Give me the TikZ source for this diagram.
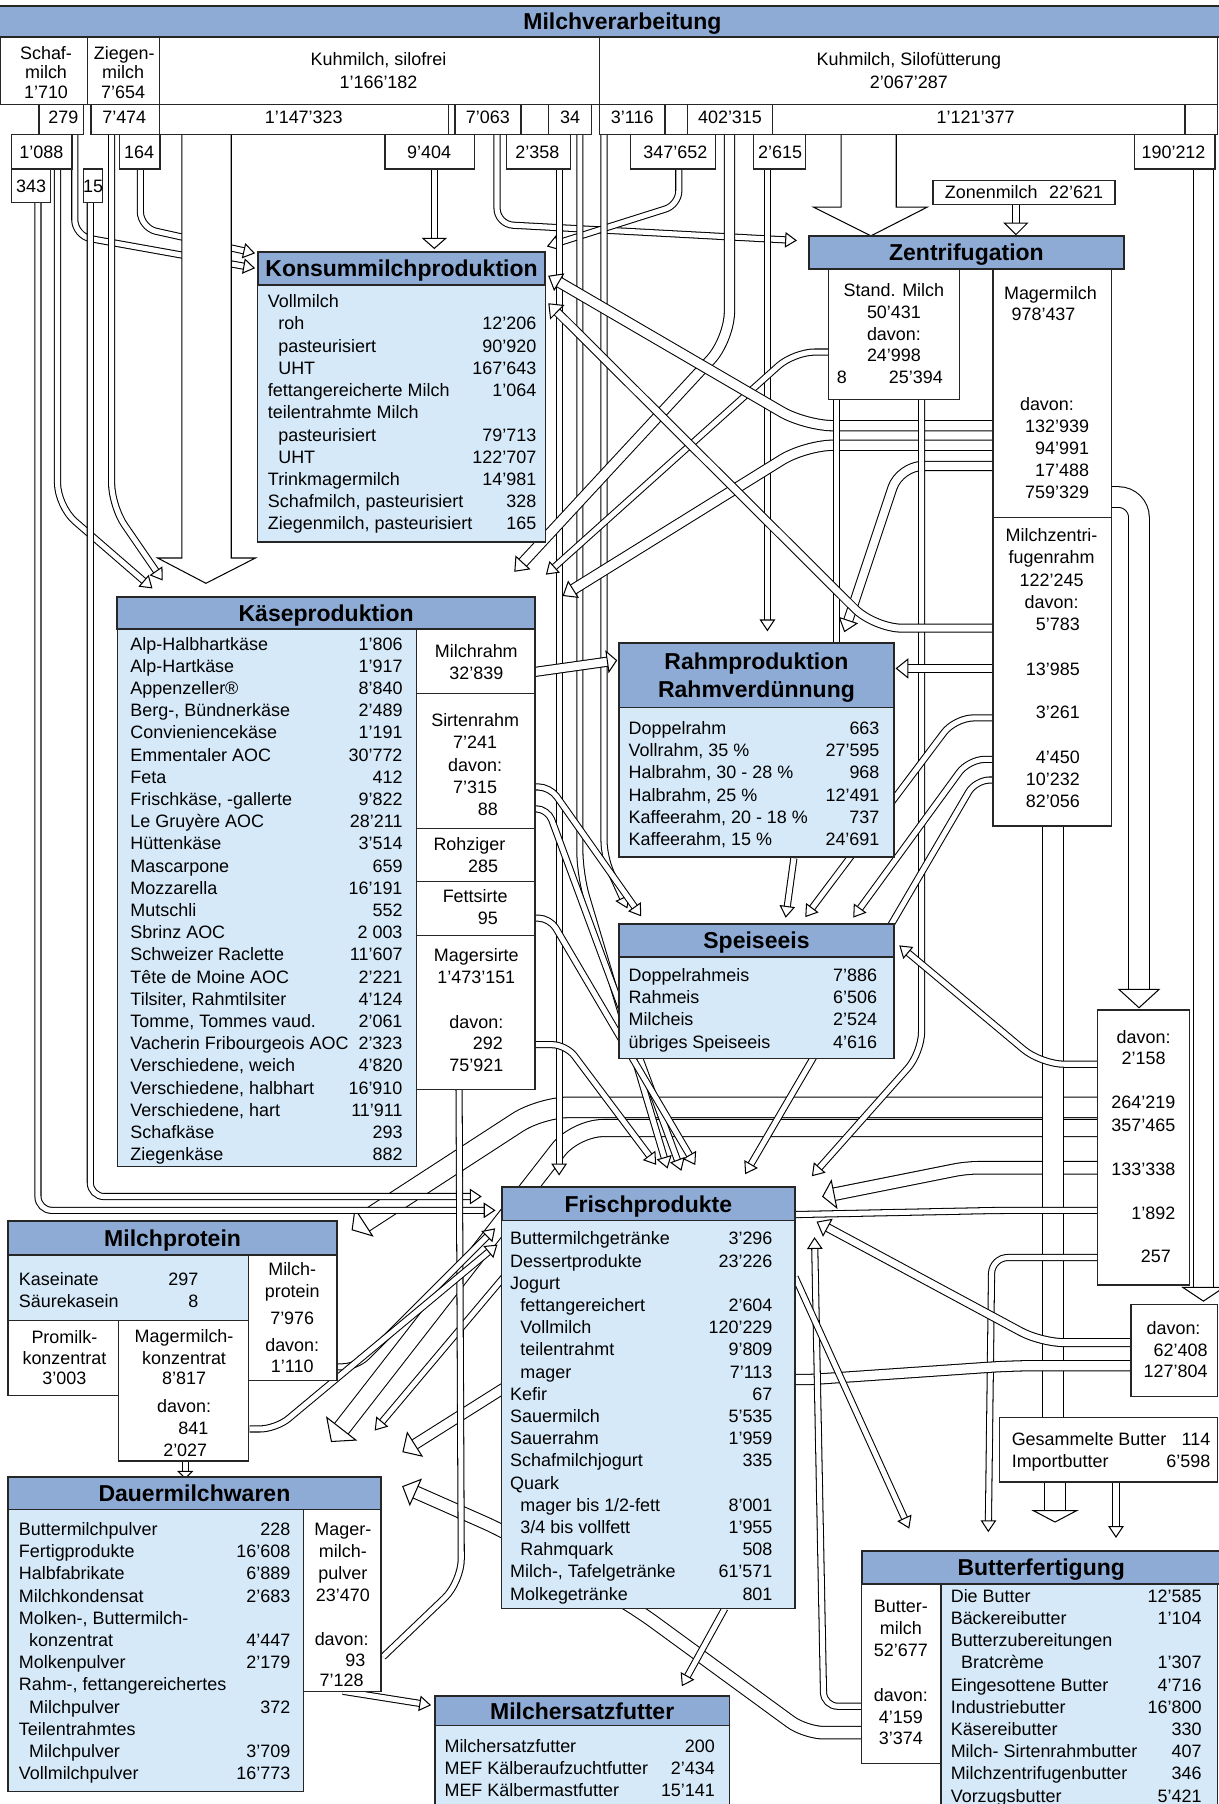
\documentclass[tikz,border=0pt]{standalone}
\usepackage{fontspec}
\setmainfont{Liberation Sans}
\usetikzlibrary{decorations.markings}
\definecolor{tblue}{RGB}{142,171,214}
\definecolor{lblue}{RGB}{214,233,248}
\newcommand\bodyf{\fontsize{7.8}{9.65}\selectfont}
\newcommand\ttlf{\fontsize{10}{12}\selectfont\bfseries}
\newcounter{tn}
\newcommand\tC[3]{\stepcounter{tn}\node[tx,anchor=base] (c\arabic{tn}) at (#1,{#2+5.6}) {#3};}
\newcommand\tR[3]{\stepcounter{tn}\node[tx,anchor=base east] (c\arabic{tn}) at (#1,{#2+5.6}) {#3};}
\newcommand\tL[3]{\stepcounter{tn}\node[tx,anchor=base west] (c\arabic{tn}) at (#1,{#2+5.6}) {#3};}
\newcommand\tT[4]{\node[tt,anchor=base] (#1) at (#2,{#3+7.2}) {#4};}
\newcommand\lst[5]{\node[tx,anchor=north west] (#1) at (#2,{#3-7.9}) {\begin{tabular*}{#4}{@{}l@{\extracolsep{\fill}}r@{}}#5\end{tabular*}};}
\newcommand\ind{\hspace*{4.5pt}}
\begin{document}
\begin{tikzpicture}[x=0.5pt,y=-0.5pt,
 fl/.style={draw=black, line width=0.45pt, double=white, double distance=#1},
 fl/.default=2.2pt,
 hd/.style 2 args={shorten >=0.75*#1, postaction={decorate, decoration={markings, mark=at position -0.05pt with {\draw[line width=0.45pt, draw=black, fill=white, sharp corners, shorten >=0pt] (0,0) -- (-#1,#2) -- (-#1,-#2) -- cycle;}}}},
 ah/.style={hd={4.5pt}{3pt}},
 tb/.style={fill=tblue, draw=black!85, line width=0.8pt},
 bb/.style={fill=lblue, draw=black!85, line width=0.6pt},
 wb/.style={fill=white, draw=black!85, line width=0.6pt},
 bigarr/.style={fill=white, draw=black, line width=0.45pt},
 tt/.style={font=\ttlf, inner sep=0pt},
 tx/.style={font=\bodyf, inner sep=0pt}]
\useasboundingbox (0,0) rectangle (1059,1568);

% ---------------- flows ----------------
% wide skim-milk bands (drawn first, crossed by the others)
\draw[fl={8.5pt},hd={6pt}{7pt},rounded corners=12pt] (954,962.5) -- (470,962.5) -- (306,1069);
\draw[fl={7pt},hd={7pt}{8pt},rounded corners=12pt] (954,980.5) -- (500,980.5) -- (288,1253);
\draw[fl={5pt},hd={5pt}{6pt},rounded corners=5pt] (954,1015) -- (840,1015) -- (715,1040);
% top-left
\draw[fl,ah,rounded corners=7pt] (65,117) -- (65,205) -- (221,233);
\draw[fl,ah,rounded corners=7pt] (122,147) -- (122,198) -- (221,220);
\draw[fl,ah,rounded corners=10pt] (50,147) -- (50,440) -- (132,511);
\draw[fl,ah,rounded corners=10pt] (97,117) -- (97,440) -- (141,504);
\draw[fl,ah,rounded corners=6pt] (33,176) -- (33,1052) -- (430,1052);
\draw[fl,ah,rounded corners=6pt] (78.5,176) -- (78.5,1040) -- (418,1040);
\draw[bigarr] (158,117) -- (158,485) -- (137,485) -- (179,507) -- (222,485) -- (201,485) -- (201,117);
\draw[fl={2.4pt},hd={4.4pt}{5pt}] (377.5,147) -- (377.5,216);
\draw[fl,ah,rounded corners=7pt] (432,117) -- (432,195) -- (692,209);
\draw[fl,ah,rounded corners=6pt] (590,147) -- (590,178) -- (476,214);
\draw[fl,ah] (486,147) -- (486,1021);
\draw[fl,ah,rounded corners=10pt] (504,117) -- (504,760) -- (580,1015);
\draw[fl,ah,rounded corners=7pt] (525,117) -- (525,745) -- (545,789);
\draw[fl,ah] (667,147) -- (667,548);
\draw[fl={4pt},hd={5pt}{4pt},rounded corners=12pt] (634,117) -- (634,295) -- (447,497);
\draw[bigarr] (731,117) -- (731,180) -- (707,180) -- (757,205) -- (806,180) -- (779,180) -- (779,117);
\draw[fl={2.4pt},hd={5pt}{5pt}] (883,178) -- (883,204);
\draw[fl={8.5pt},hd={6pt}{9pt}] (1046,147) -- (1046,1131);
% Zentrifugation
\draw[fl,ah,rounded corners=9pt] (720,306) -- (690,306) -- (475,499);
\draw[fl={4pt},hd={5pt}{4pt},rounded corners=12pt] (863,370) -- (700,370) -- (477,240);
\draw[fl={4pt},hd={5pt}{4pt},rounded corners=12pt] (863,387) -- (700,387) -- (489,518);
\draw[fl={3.5pt},hd={5pt}{4pt},rounded corners=10pt] (863,405) -- (782,405) -- (734,549);
\draw[fl={8.5pt},hd={8pt}{8.75pt},rounded corners=9pt] (966,432) -- (990,432) -- (990,876);
\draw[fl] (727,347) -- (727,560);
\draw[fl,ah,rounded corners=9pt] (801,347) -- (801,915) -- (706,1022);
\draw[fl={3pt},hd={5pt}{4pt},rounded corners=12pt] (863,546) -- (760,546) -- (477,264);
\draw[fl={3pt},hd={5pt}{4pt}] (863,581) -- (779,581);
\draw[fl,ah,rounded corners=8pt] (863,624) -- (830,624) -- (700,797);
\draw[fl,ah,rounded corners=7pt] (863,660) -- (842,660) -- (742,797);
\draw[fl,ah,rounded corners=6pt] (863,678) -- (848,678) -- (648,1020);
\draw[fl={8.5pt}] (915,718) -- (915,1232);
\draw[fl={8.5pt},hd={5pt}{9.5pt}] (917,1288) -- (917,1323);
\draw[fl,ah] (970,1288) -- (970,1336);
% right box
\draw[fl,ah,rounded corners=10pt] (954,925) -- (905,925) -- (782,822);
\draw[fl,ah,rounded corners=8pt] (954,1052) -- (870,1052) -- (480,1060) -- (326,1243);
\draw[fl,ah,rounded corners=7pt] (954,1093) -- (862,1093) -- (859,1331);
\draw[fl={3pt},hd={5pt}{4pt},rounded corners=10pt] (983,1167) -- (905,1167) -- (710,1062);
\draw[fl={4pt},hd={6pt}{6pt},rounded corners=10pt] (983,1187) -- (880,1187) -- (691,1200) -- (480,1180) -- (350,1262);
\draw[fl={5pt},hd={6pt}{6pt},rounded corners=8pt] (749,1506) -- (700,1506) -- (555,1400) -- (436,1330) -- (350,1292);
\draw[fl,ah,rounded corners=6pt] (749,1483) -- (716,1483) -- (708,1076);
\draw[fl,ah] (630,1398) -- (593,1465);
\draw[fl,ah] (691,1110) -- (790,1328);
\draw[fl,ah] (298,1470) -- (374,1482);
\draw[fl,rounded corners=10pt] (399,947) -- (401,1375) -- (333,1440);
\draw[fl,ah,rounded corners=6pt] (293,1188) -- (310,1188) -- (430,1068);
\draw[fl,ah,rounded corners=7pt] (217,1242) -- (240,1242) -- (432,1082);
\draw[fl,hd={3pt}{3pt}] (161,1270) -- (161,1285);
% Kaese right column
\draw[fl={3.5pt},hd={4pt}{4.5pt}] (465,584) -- (536,574);
\draw[fl,ah,rounded corners=5pt] (465,684) -- (478,684) -- (557,796);
\draw[fl,ah,rounded corners=5pt] (465,703) -- (476,703) -- (592,1017);
\draw[fl,ah,rounded corners=5pt] (465,798) -- (478,798) -- (604,1012);
\draw[fl,ah,rounded corners=6pt] (465,908) -- (492,908) -- (570,1012);
\draw[fl,ah] (690,746) -- (683,797);

% ---------------- boxes ----------------
\draw[tb] (-2,5) rectangle (1061,32);
\draw[wb] (0,32) rectangle (76,91);
\draw[wb] (76,32) rectangle (138.5,91);
\draw[wb] (138.5,32) rectangle (521,91);
\draw[wb] (521,32) rectangle (1058,91);
\draw[wb] (34,91) rectangle (72.5,117);
\draw[wb] (79,91) rectangle (138.5,117);
\draw[wb] (138.5,91) rectangle (390,117);
\draw[wb] (390,91) rectangle (395.5,117);
\draw[wb] (395.5,91) rectangle (453,117);
\draw[wb] (477,91) rectangle (514,117);
\draw[wb] (521,91) rectangle (578,117);
\draw[wb] (578,91) rectangle (597.5,117);
\draw[wb] (597.5,91) rectangle (671.5,117);
\draw[wb] (671.5,91) rectangle (1030,117);
\draw[wb] (1030,91) rectangle (1058,117);
\draw[wb] (10,117) rectangle (62.5,147);
\draw[wb] (104,117) rectangle (139,147);
\draw[wb] (334.5,117) rectangle (412.5,147);
\draw[wb] (440,117) rectangle (496,147);
\draw[wb] (548,117) rectangle (622,147);
\draw[wb] (655,117) rectangle (700,147);
\draw[wb] (986,117) rectangle (1056,147);
\draw[wb] (10,147) rectangle (44,176);
\draw[wb] (72.5,147) rectangle (89,176);
\draw[wb] (811,157) rectangle (969,178);
% Konsum
\draw[tb] (224,219) rectangle (474,248);
\draw[bb] (224,248) rectangle (474,471);
% Zentrifugation
\draw[tb] (703,205) rectangle (977,234);
\draw[wb] (720,234) rectangle (834,347);
\draw[wb] (863,234) rectangle (966,450);
\draw[wb] (863,450) rectangle (966,718);
% Kaese
\draw[tb] (102,519) rectangle (465,547);
\draw[bb] (102,547) rectangle (362,1014);
\draw[wb] (362,547) rectangle (465,603);
\draw[wb] (362,603) rectangle (465,720);
\draw[wb] (362,720) rectangle (465,766);
\draw[wb] (362,766) rectangle (465,813);
\draw[wb] (362,813) rectangle (465,947);
% Rahm
\draw[tb] (538,559) rectangle (777,615);
\draw[bb] (538,615) rectangle (777,745);
% Speiseeis
\draw[tb] (538,803) rectangle (777,832);
\draw[bb] (538,832) rectangle (777,920);
% Frisch
\draw[tb] (436,1032) rectangle (691,1061);
\draw[bb] (436,1061) rectangle (691,1398);
% Milchprotein
\draw[tb] (7,1061) rectangle (293,1091);
\draw[bb] (7,1091) rectangle (216,1148);
\draw[wb] (216,1091) rectangle (293,1200);
\draw[wb] (7,1148) rectangle (103,1213);
\draw[wb] (103,1148) rectangle (216,1270);
% Dauer
\draw[tb] (7,1284) rectangle (331,1312);
\draw[bb] (7,1312) rectangle (264,1557);
\draw[wb] (264,1312) rectangle (331,1470);
% Milchersatz
\draw[tb] (378,1474) rectangle (634,1500);
\draw[bb] (378,1500) rectangle (634,1575);
% Butter
\draw[tb] (749,1348) rectangle (1061,1377);
\draw[wb] (749,1377) rectangle (818,1533);
\draw[bb] (818,1377) rectangle (1058,1575);
% right boxes
\draw[wb] (954,878) rectangle (1034,1117);
\draw[wb] (983,1134) rectangle (1058,1214);
\draw[wb] (869,1232) rectangle (1058,1288);

% ---------------- titles ----------------
\tT{tMV}{541}{18.5}{Milchverarbeitung}
\tT{tKM}{349}{233.5}{Konsummilchproduktion}
\tT{tZE}{840}{219.5}{Zentrifugation}
\tT{tKA}{283.5}{533}{Käseproduktion}
\tT{tRA}{657.5}{575}{Rahmproduktion}
\tT{tRB}{657.5}{599}{Rahmverdünnung}
\tT{tSP}{657.5}{817.5}{Speiseeis}
\tT{tFR}{563.5}{1046.5}{Frischprodukte}
\tT{tMP}{150}{1076}{Milchprotein}
\tT{tDA}{169}{1298}{Dauermilchwaren}
\tT{tME}{506}{1487}{Milchersatzfutter}
\tT{tBU}{905}{1362.5}{Butterfertigung}

% ---------------- cell texts ----------------
\tC{40}{46}{Schaf-}\tC{40}{63}{milch}\tC{40}{80}{1’710}
\tC{108}{46}{Ziegen-}\tC{107}{63}{milch}\tC{107}{80}{7’654}
\tC{329}{51.5}{Kuhmilch, silofrei}\tC{329}{71}{1’166’182}
\tC{790}{51.5}{Kuhmilch, Silofütterung}\tC{790}{71}{2’067’287}
\tC{55}{102}{279}\tC{108}{102}{7’474}\tC{264}{102}{1’147’323}\tC{424}{102}{7’063}
\tC{495.5}{102}{34}\tC{549.5}{102}{3’116}\tC{634.5}{102}{402’315}\tC{848}{102}{1’121’377}
\tC{36}{132}{1’088}\tC{121}{132}{164}\tC{373}{132}{9’404}\tC{467}{132}{2’358}
\tC{587}{132}{347’652}\tC{678}{132}{2’615}\tC{1020}{132}{190’212}
\tC{27}{162}{343}\tC{81}{162}{15}
\tC{890}{167}{Zonenmilch\hspace{5pt}22’621}
% Zentrifugation cells
\tC{777}{252}{Stand. Milch}\tC{777}{271}{50’431}\tC{777}{290}{davon:}\tC{777}{309}{24’998}
\tL{727}{328}{8}\tC{796}{328}{25’394}
\tC{913}{255}{Magermilch}\tC{907}{273}{978’437}\tC{910}{351}{davon:}
\tR{947}{370}{132’939}\tR{947}{389.5}{94’991}\tR{947}{408.5}{17’488}\tR{947}{427.5}{759’329}
\tC{914}{465}{Milchzentri-}\tC{914}{484.5}{fugenrahm}\tC{914}{504}{122’245}\tC{914}{523}{davon:}
\tR{939}{542}{5’783}\tR{939}{581.5}{13’985}\tR{939}{619}{3’261}\tR{939}{658}{4’450}\tR{939}{677}{10’232}\tR{939}{696}{82’056}
% Kaese right column
\tC{414}{566}{Milchrahm}\tC{414}{585}{32’839}
\tC{413}{626}{Sirtenrahm}\tC{413}{645}{7’241}\tC{413}{665}{davon:}\tC{413}{684}{7’315}\tC{424}{703}{88}
\tC{408}{734}{Rohziger}\tC{420}{753}{285}
\tC{413}{779}{Fettsirte}\tC{424}{798}{95}
\tC{414}{830}{Magersirte}\tC{414}{849}{1’473’151}\tC{414}{888}{davon:}\tC{424}{907}{292}\tC{414}{926}{75’921}
% Milchprotein
\tC{254}{1103}{Milch-}\tC{254}{1122}{protein}\tC{254}{1146}{7’976}\tC{254}{1169}{davon:}\tC{254}{1187}{1’110}
\tC{56}{1162}{Promilk-}\tC{56}{1180}{konzentrat}\tC{56}{1198}{3’003}
\tC{160}{1161}{Magermilch-}\tC{160}{1180}{konzentrat}\tC{160}{1198}{8’817}\tC{160}{1222}{davon:}\tC{168}{1241}{841}\tC{161}{1260}{2’027}
% Dauer right
\tC{298}{1329}{Mager-}\tC{298}{1348}{milch-}\tC{298}{1367}{pulver}\tC{298}{1386}{23’470}
\tC{297}{1425}{davon:}\tR{318}{1443}{93}\tC{297}{1460}{7’128}
% Butter left
\tC{783}{1396}{Butter-}\tC{783}{1415}{milch}\tC{783}{1434}{52’677}\tC{783}{1473}{davon:}\tC{783}{1492}{4’159}\tC{783}{1511}{3’374}
% right boxes
\tC{994}{901}{davon:}\tC{994}{920}{2’158}
\tR{1022}{958}{264’219}\tR{1022}{977.5}{357’465}\tR{1022}{1016}{133’338}\tR{1022}{1054.5}{1’892}\tR{1018}{1092}{257}
\tC{1020}{1154}{davon:}\tR{1050}{1173}{62’408}\tR{1050}{1192}{127’804}

% ---------------- lists ----------------
\lst{lKM}{232.5}{261.5}{113.75pt}{Vollmilch & \\ \ind roh & 12’206\\ \ind pasteurisiert & 90’920\\ \ind UHT & 167’643\\ fettangereicherte Milch & 1’064\\ teilentrahmte Milch & \\ \ind pasteurisiert & 79’713\\ \ind UHT & 122’707\\ Trinkmagermilch & 14’981\\ Schafmilch, pasteurisiert & 328\\ Ziegenmilch, pasteurisiert & 165}
\lst{lKA}{113}{559}{114.5pt}{Alp-Halbhartkäse & 1’806\\ Alp-Hartkäse & 1’917\\ Appenzeller® & 8’840\\ Berg-, Bündnerkäse & 2’489\\ Convieniencekäse & 1’191\\ Emmentaler AOC & 30’772\\ Feta & 412\\ Frischkäse, -gallerte & 9’822\\ Le Gruyère AOC & 28’211\\ Hüttenkäse & 3’514\\ Mascarpone & 659\\ Mozzarella & 16’191\\ Mutschli & 552\\ Sbrinz AOC & 2 003\\ Schweizer Raclette & 11’607\\ Tête de Moine AOC & 2’221\\ Tilsiter, Rahmtilsiter & 4’124\\ Tomme, Tommes vaud. & 2’061\\ Vacherin Fribourgeois AOC & 2’323\\ Verschiedene, weich & 4’820\\ Verschiedene, halbhart & 16’910\\ Verschiedene, hart & 11’911\\ Schafkäse & 293\\ Ziegenkäse & 882}
\lst{lRA}{546}{632.4}{109pt}{Doppelrahm & 663\\ Vollrahm, 35 \% & 27’595\\ Halbrahm, 30 - 28 \% & 968\\ Halbrahm, 25 \% & 12’491\\ Kaffeerahm, 20 - 18 \% & 737\\ Kaffeerahm, 15 \% & 24’691}
\lst{lSP}{546}{847}{108pt}{Doppelrahmeis & 7’886\\ Rahmeis & 6’506\\ Milcheis & 2’524\\ übriges Speiseeis & 4’616}
\lst{lFR}{443}{1076}{114pt}{Buttermilchgetränke & 3’296\\ Dessertprodukte & 23’226\\ Jogurt & \\ \ind fettangereichert & 2’604\\ \ind Vollmilch & 120’229\\ \ind teilentrahmt & 9’809\\ \ind mager & 7’113\\ Kefir & 67\\ Sauermilch & 5’535\\ Sauerrahm & 1’959\\ Schafmilchjogurt & 335\\ Quark & \\ \ind mager bis 1/2-fett & 8’001\\ \ind 3/4 bis vollfett & 1’955\\ \ind Rahmquark & 508\\ Milch-, Tafelgetränke & 61’571\\ Molkegetränke & 801}
\lst{lMP}{16}{1111}{78pt}{Kaseinate & 297\\ Säurekasein & 8}
\lst{lDA}{16}{1328.6}{118pt}{Buttermilchpulver & 228\\ Fertigprodukte & 16’608\\ Halbfabrikate & 6’889\\ Milchkondensat & 2’683\\ Molken-, Buttermilch- & \\ \ind konzentrat & 4’447\\ Molkenpulver & 2’179\\ Rahm-, fettangereichertes & \\ \ind Milchpulver & 372\\ Teilentrahmtes & \\ \ind Milchpulver & 3’709\\ Vollmilchpulver & 16’773}
\lst{lME}{386}{1517}{117.5pt}{Milchersatzfutter & 200\\ MEF Kälberaufzuchtfutter & 2’434\\ MEF Kälbermastfutter & 15’141}
\lst{lBU}{826}{1386.6}{109pt}{Die Butter & 12’585\\ Bäckereibutter & 1’104\\ Butterzubereitungen & \\ \ind Bratcrème & 1’307\\ Eingesottene Butter & 4’716\\ Industriebutter & 16’800\\ Käsereibutter & 330\\ Milch- Sirtenrahmbutter & 407\\ Milchzentrifugenbutter & 346\\ Vorzugsbutter & 5’421}
\lst{lGB}{879}{1250}{84pt}{Gesammelte Butter & 114\\ Importbutter & 6’598}
\end{tikzpicture}
\end{document}
